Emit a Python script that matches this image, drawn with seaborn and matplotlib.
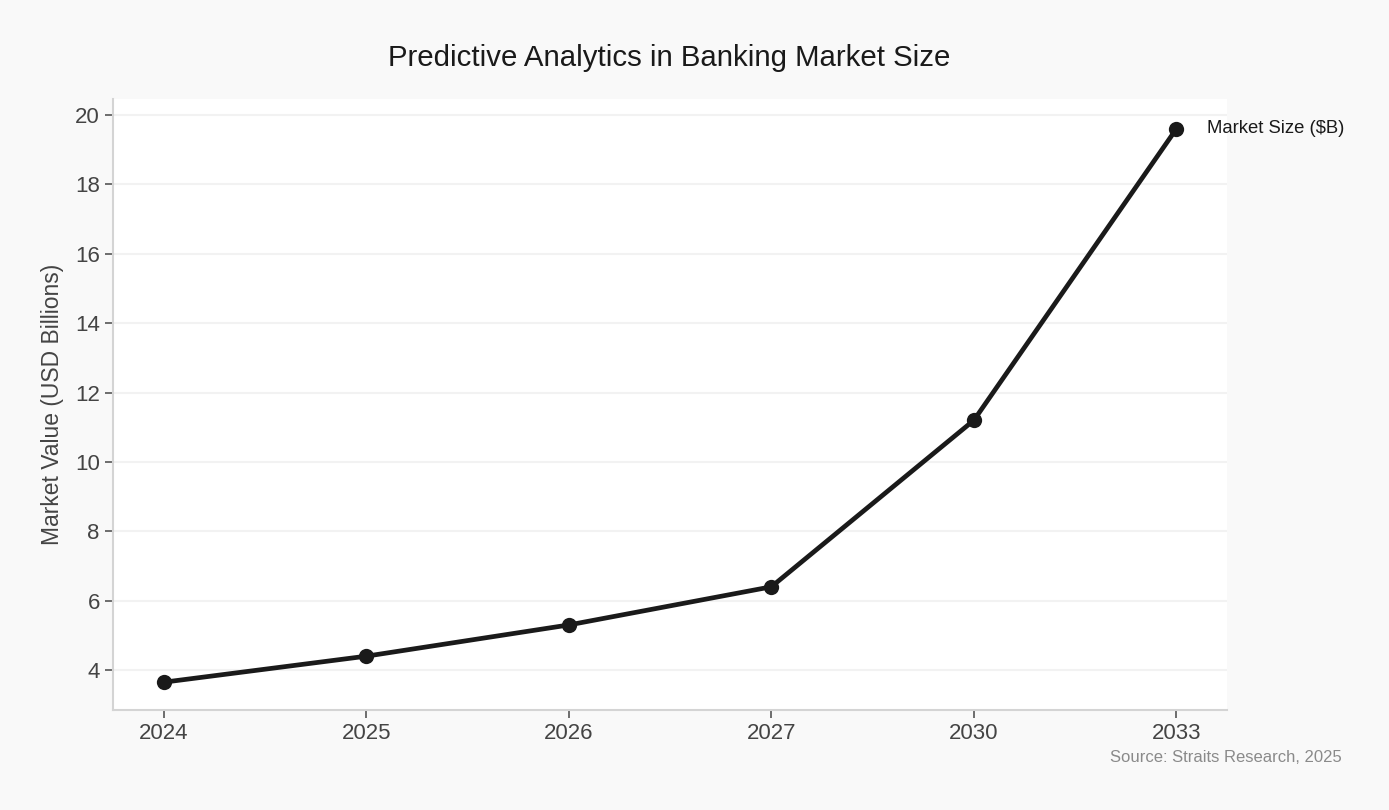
import pandas as pd
import seaborn as sns
import matplotlib.pyplot as plt

sns.set_theme(style="whitegrid")
plt.rcParams["font.family"] = ["Liberation Sans", "DejaVu Sans"]

years = ["2024", "2025", "2026", "2027", "2030", "2033"]
market_size = [3.65, 4.4, 5.3, 6.4, 11.2, 19.6]
series_label = "Market Size ($B)"

df = pd.DataFrame({"year": years, "value": market_size})

fig = plt.figure(figsize=(13.89, 8.10), dpi=100, facecolor="#f9f9f9")
ax = fig.add_axes([0.0814, 0.1235, 0.802, 0.7543])
ax.set_facecolor("white")

sns.lineplot(
    data=df, x="year", y="value", ax=ax,
    color="#1a1a1a", linewidth=3.4, marker="o", markersize=11,
    markeredgewidth=0, sort=False
)

ax.set_xlim(-0.25, 5.25)
ax.set_ylim(2.85, 20.46)
ax.set_yticks([4, 6, 8, 10, 12, 14, 16, 18, 20])

ax.grid(axis="y", color="#f2f2f2", linewidth=1.5)
ax.grid(axis="x", visible=False)
for side in ["top", "right"]:
    ax.spines[side].set_visible(False)
for side in ["left", "bottom"]:
    ax.spines[side].set_color("#d4d4d4")
    ax.spines[side].set_linewidth(1.5)

ax.tick_params(axis="both", colors="#555555", labelsize=16, length=6, width=1.2,
               labelcolor="#444444", left=True, bottom=True)
ax.set_xlabel("")
ax.set_ylabel("Market Value (USD Billions)", fontsize=16.5, color="#444444", labelpad=8)

ax.annotate(series_label, xy=(5, market_size[-1]), xytext=(22, 0),
            textcoords="offset points", va="center", ha="left",
            fontsize=13.3, color="#1a1a1a", annotation_clip=False)

fig.text(0.482, 0.929, "Predictive Analytics in Banking Market Size",
         ha="center", va="center", fontsize=21.2, color="#1a1a1a")
fig.text(0.966, 0.065, "Source: Straits Research, 2025",
         ha="right", va="center", fontsize=12, color="#8a8a8a")

plt.savefig("out.png", dpi=100, facecolor=fig.get_facecolor())
plt.close()
